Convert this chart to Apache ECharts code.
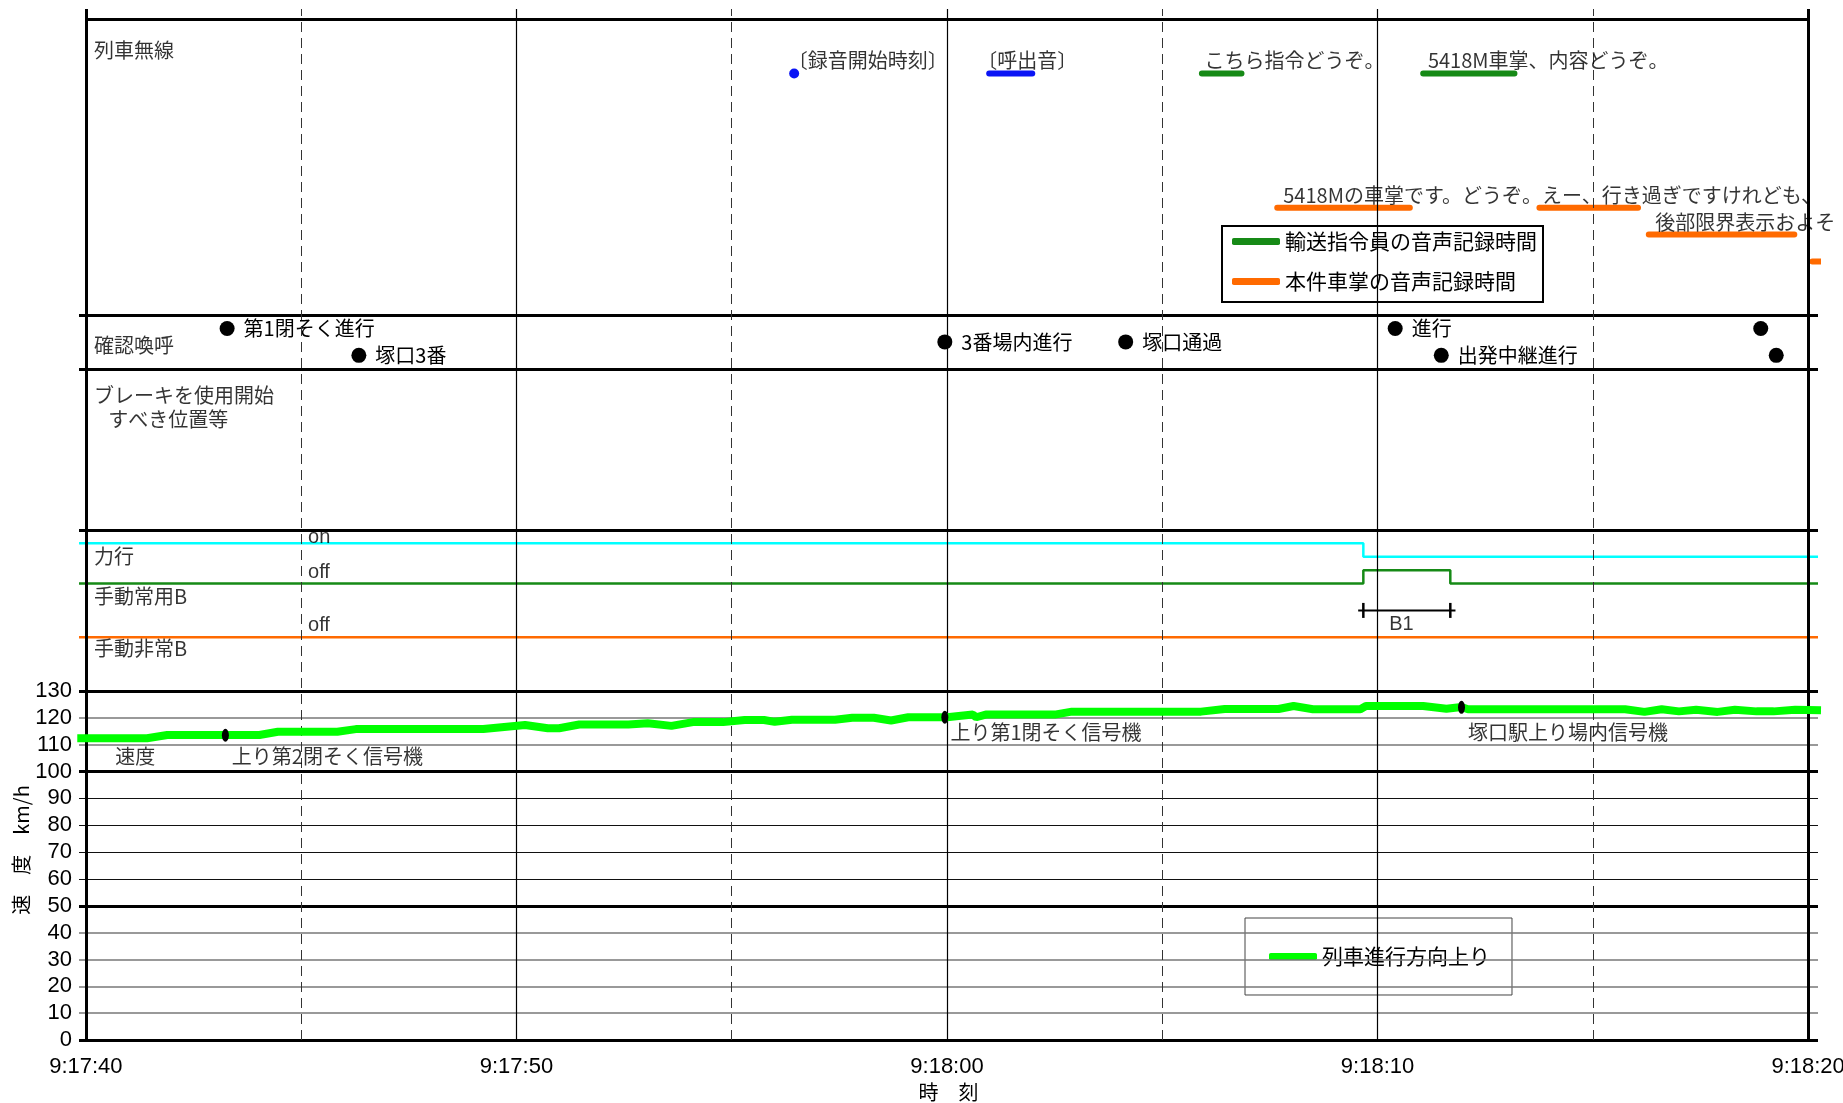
<!DOCTYPE html>
<html>
<head>
<meta charset="utf-8">
<script src="https://cdn.jsdelivr.net/npm/echarts@6/dist/echarts.min.js"></script>
<style>
  html, body { margin: 0; padding: 0; background: #fff; }
  #chart { width: 1843px; height: 1103px; }
</style>
</head>
<body>
<div id="chart"></div>
<script>
// x: seconds after 9:17:40
const timeTicks = [0, 10, 20, 30, 40];
const halfTicks = [5, 15, 25, 35];
const speedTicks = [0, 10, 20, 30, 40, 50, 60, 70, 80, 90, 100, 110, 120, 130];

// speed (km/h)
const speedTime = [-0.2, 1.42, 1.89, 4.03, 4.46, 5.84, 6.27, 9.23, 10.2, 10.73, 10.99, 11.46, 12.6,
  13.05, 13.6, 14.1, 14.8, 15.3, 15.75, 16.0, 16.4, 17.4, 17.8, 18.3, 18.7, 19.1, 20.0, 20.6, 20.68,
  20.9, 22.5, 22.9, 25.9, 26.45, 27.7, 28.05, 28.5, 29.6, 29.73, 31.06, 31.6, 31.95, 32.1, 35.75,
  36.2, 36.6, 37.0, 37.4, 37.9, 38.3, 38.8, 39.2, 39.7, 40.3];
const speedValue = [112.4, 112.4, 113.6, 113.6, 114.8, 114.8, 115.8, 115.8, 117.3, 116.1, 116.1, 117.5, 117.5,
  118.0, 117.0, 118.4, 118.4, 119.2, 119.2, 118.5, 119.3, 119.3, 120.0, 120.0, 119.0, 120.2, 120.2, 121.2, 120.2,
  121.2, 121.2, 122.3, 122.3, 123.3, 123.3, 124.4, 123.2, 123.2, 124.4, 124.4, 123.4, 124.0, 123.2, 123.2,
  122.2, 123.2, 122.4, 123.0, 122.2, 123.0, 122.4, 122.4, 123.0, 122.8];

// signals passed
const signalTime = [3.24, 19.95, 31.95];
const signalSpeed = [113.5, 120.2, 123.9];

// notch states (row levels inside the 力行/手動 band)
const powerTime = [-0.16, 29.67, 29.67, 40.23];
const powerLevel = [185, 185, 180, 180];
const serviceTime = [-0.16, 29.67, 29.67, 31.69, 31.69, 40.23];
const serviceLevel = [170, 170, 175, 175, 170, 170];
const emergencyTime = [-0.16, 40.23];
const emergencyLevel = [150, 150];
const b1Range = [29.67, 31.69];

// radio
const recordStart = 16.45;
const ringSegment = [20.98, 21.98];
const dispatcherSegments = [[25.92, 26.84], [31.06, 33.18]];
const conductorSegments = [[27.67, 30.75, 310], [33.76, 36.05, 310], [36.3, 39.68, 300], [40.1, 40.3, 290]];

// 確認喚呼
const callTime = [3.28, 6.34, 19.95, 24.15, 30.41, 31.48, 38.9, 39.26];
const callRow = [265, 255, 260, 260, 265, 255, 265, 255];
const callText = ['第1閉そく進行', '塚口3番', '3番場内進行', '塚口通過', '進行', '出発中継進行', '', ''];

// text annotations [t, row, text]
const sectionLabels = [
  [0.19, 368.6, '列車無線'],
  [0.19, 258.7, '確認喚呼'],
  [0.19, 240.2, 'ブレーキを使用開始'],
  [0.52, 231, 'すべき位置等'],
  [0.19, 180.3, '力行'],
  [0.19, 165.4, '手動常用B'],
  [0.19, 145.7, '手動非常B'],
  [0.68, 105.8, '速度']
];
const stateLabels = [[5.16, 187.2, 'on'], [5.16, 174.1, 'off'], [5.16, 154.4, 'off']];
const radioLabels = [
  [16.3, 365, '〔録音開始時刻〕'],
  [20.7, 365, '〔呼出音〕'],
  [25.98, 365, 'こちら指令どうぞ。'],
  [31.17, 365, '5418M車掌、内容どうぞ。'],
  [27.81, 314.7, '5418Mの車掌です。どうぞ。えー、行き過ぎですけれども、'],
  [36.45, 304.6, '後部限界表示およそ']
];
const signalLabels = [
  [3.39, 105.5, '上り第2閉そく信号機'],
  [20.08, 114.6, '上り第1閉そく信号機'],
  [32.1, 114.6, '塚口駅上り場内信号機']
];

const JP = '"Noto Sans CJK JP", sans-serif';
const NUM = '"Liberation Sans Narrow", "Liberation Sans", Arial, sans-serif';
const SANS = '"Liberation Sans", Arial, sans-serif';
const GREEN = '#168a16';
const ORANGE = '#ff6a00';
const BLUE = '#0a14f5';

function pairs(xs, ys) { return xs.map((x, i) => [x, ys[i]]); }

function segData(segs, row) {
  const d = [];
  segs.forEach(s => {
    const r = s.length > 2 ? s[2] : row;
    d.push([s[0], r], [s[1], r], [s[1], '-']);
  });
  return d;
}

function textSeries(items, style) {
  return {
    type: 'scatter', symbolSize: 0, silent: true, z: 6,
    data: items.map(a => ({ name: a[2], value: [a[0], a[1]] })),
    label: Object.assign({ show: true, position: 'right', distance: 0, formatter: '{b}', color: '#000' }, style)
  };
}

function fmtTime(v) {
  const s = 17 * 60 + 40 + Math.round(v);
  return '9:' + Math.floor(s / 60) + ':' + String(s % 60).padStart(2, '0');
}

// frame and grid lines
const frameLines = [];
speedTicks.concat([190, 250, 270]).forEach(v => {
  let style;
  if ([0, 50, 100, 130, 190, 250, 270].includes(v)) style = { color: '#000', width: 3, type: 'solid' };
  else if (v >= 60 && v <= 90) style = { color: '#111', width: 1.2, type: 'solid' };
  else style = { color: '#777', width: 1.6, type: 'solid' };
  frameLines.push([{ coord: [-0.16, v], lineStyle: style }, { coord: [40.23, v] }]);
});
frameLines.push([{ coord: [0, 380], lineStyle: { color: '#000', width: 3, type: 'solid' } }, { coord: [40, 380] }]);
timeTicks.forEach(t => {
  const edge = t === 0 || t === 40;
  frameLines.push([{ coord: [t, 0], lineStyle: { color: '#000', width: edge ? 3 : 1.2, type: 'solid' } }, { coord: [t, 384] }]);
});
halfTicks.forEach(t => {
  frameLines.push([{ coord: [t, 0], lineStyle: { color: '#333', width: 1, type: [10, 6] } }, { coord: [t, 384] }]);
});

const chart = echarts.init(document.getElementById('chart'));
chart.setOption({
  animation: false,
  backgroundColor: '#fff',
  grid: { left: 79, right: 25, top: 9, bottom: 63, outerBoundsMode: 'none', containLabel: false },
  xAxis: {
    type: 'value', min: -0.16, max: 40.23,
    name: '時　刻', nameLocation: 'middle', nameGap: 42,
    nameTextStyle: { fontFamily: JP, fontSize: 20, color: '#000' },
    axisLine: { show: false }, axisTick: { show: false }, splitLine: { show: false },
    axisLabel: { customValues: timeTicks, formatter: fmtTime, margin: 16, fontFamily: NUM, fontSize: 22, color: '#000' }
  },
  yAxis: {
    type: 'value', min: 0, max: 384, interval: 10,
    axisLine: { show: false }, axisTick: { show: false }, splitLine: { show: false },
    axisLabel: {
      formatter: v => (v <= 130 ? String(v) : ''), showMaxLabel: false,
      margin: 7, fontFamily: NUM, fontSize: 22, color: '#000'
    }
  },
  legend: [
    {
      data: ['輸送指令員の音声記録時間', '本件車掌の音声記録時間'],
      orient: 'vertical', left: 1222, top: 226, padding: [5, 6, 10, 10], itemGap: 19,
      itemWidth: 48, itemHeight: 7, icon: 'roundRect', selectedMode: false,
      borderColor: '#000', borderWidth: 2, backgroundColor: '#fff',
      textStyle: { fontFamily: JP, fontSize: 21, color: '#000' }
    },
    {
      data: ['列車進行方向上り'],
      left: 1245, top: 918, padding: [28, 22, 28, 24],
      itemWidth: 48, itemHeight: 7, icon: 'roundRect', selectedMode: false,
      borderColor: '#444', borderWidth: 1, backgroundColor: '#fff',
      textStyle: { fontFamily: JP, fontSize: 21, color: '#000' }
    }
  ],
  graphic: [{
    type: 'text', x: 21, y: 850, rotation: Math.PI / 2,
    style: { text: '速　度　km/h', fill: '#000', fontSize: 20, fontFamily: 'Noto Sans CJK JP', align: 'center', verticalAlign: 'middle' }
  }],
  series: [
    {
      type: 'line', data: [], z: 1, silent: true,
      markLine: { silent: true, symbol: 'none', label: { show: false }, animation: false, data: frameLines }
    },
    {
      name: '力行', type: 'line', data: pairs(powerTime, powerLevel), showSymbol: false, z: 3,
      lineStyle: { color: '#00ffff', width: 2.5 }, itemStyle: { color: '#00ffff' }
    },
    {
      name: '手動常用B', type: 'line', data: pairs(serviceTime, serviceLevel), showSymbol: false, z: 3,
      lineStyle: { color: GREEN, width: 2.5 }, itemStyle: { color: GREEN }
    },
    {
      name: '手動非常B', type: 'line', data: pairs(emergencyTime, emergencyLevel), showSymbol: false, z: 3,
      lineStyle: { color: ORANGE, width: 2.5 }, itemStyle: { color: ORANGE }
    },
    {
      name: 'B1', type: 'line', data: [[b1Range[0] - 0.12, 160], [b1Range[1] + 0.12, 160]], showSymbol: false, z: 3,
      lineStyle: { color: '#000', width: 2 }, itemStyle: { color: '#000' }
    },
    {
      type: 'scatter', z: 3, silent: true, symbol: 'rect', symbolSize: [2.5, 15],
      itemStyle: { color: '#000', opacity: 1 }, data: [[b1Range[0], 160], [b1Range[1], 160]]
    },
    textSeries([[b1Range[0] + 0.6, 154.9, 'B1']], { fontFamily: SANS, fontSize: 20 }),
    {
      name: '〔録音開始時刻〕', type: 'scatter', z: 4, symbolSize: 10,
      itemStyle: { color: BLUE, opacity: 1 }, data: [[recordStart, 360]]
    },
    {
      name: '〔呼出音〕', type: 'line', z: 4, showSymbol: false,
      lineStyle: { color: BLUE, width: 6, cap: 'round' }, itemStyle: { color: BLUE },
      data: [[ringSegment[0], 360], [ringSegment[1], 360]]
    },
    {
      name: '輸送指令員の音声記録時間', type: 'line', z: 4, showSymbol: false, connectNulls: false,
      lineStyle: { color: GREEN, width: 6, cap: 'round' }, itemStyle: { color: GREEN },
      data: segData(dispatcherSegments, 360)
    },
    {
      name: '本件車掌の音声記録時間', type: 'line', z: 4, showSymbol: false, connectNulls: false,
      lineStyle: { color: ORANGE, width: 6, cap: 'round' }, itemStyle: { color: ORANGE },
      data: segData(conductorSegments, 310)
    },
    {
      name: '確認喚呼', type: 'scatter', z: 4, symbolSize: 15,
      itemStyle: { color: '#000', opacity: 1 },
      data: callTime.map((t, i) => ({ name: callText[i], value: [t, callRow[i]] })),
      label: { show: true, position: 'right', distance: 9, formatter: '{b}', color: '#000', fontFamily: JP, fontSize: 20 }
    },
    {
      name: '列車進行方向上り', type: 'line', z: 5, showSymbol: false,
      lineStyle: { color: '#00ff00', width: 8 }, itemStyle: { color: '#00ff00' },
      data: pairs(speedTime, speedValue)
    },
    {
      name: '信号機', type: 'scatter', z: 6, symbolSize: [7, 13],
      itemStyle: { color: '#000', opacity: 1 }, data: pairs(signalTime, signalSpeed)
    },
    textSeries(sectionLabels, { fontFamily: JP, fontSize: 20 }),
    textSeries(stateLabels, { fontFamily: SANS, fontSize: 20 }),
    textSeries(radioLabels, { fontFamily: JP, fontSize: 20 }),
    textSeries(signalLabels, { fontFamily: JP, fontSize: 20 })
  ]
});
window.addEventListener('resize', () => chart.resize());
</script>
</body>
</html>
